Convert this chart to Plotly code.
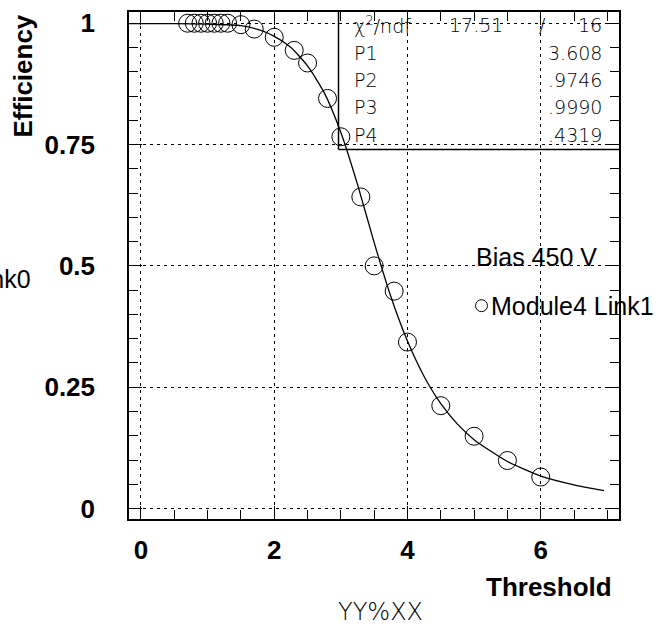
import plotly.graph_objects as go

# Measured efficiency versus threshold
threshold = [0.7, 0.8, 0.9, 1.0, 1.1, 1.2, 1.3, 1.5, 1.7, 2.0, 2.3, 2.5,
             2.8, 3.0, 3.3, 3.5, 3.8, 4.0, 4.5, 5.0, 5.5, 6.0]
efficiency = [1.0, 1.0, 1.0, 1.0, 1.0, 1.0, 1.0, 0.997, 0.988, 0.971, 0.944, 0.918,
              0.845, 0.766, 0.642, 0.500, 0.448, 0.343, 0.212, 0.149, 0.099, 0.065]

# Fitted curve, sampled along the threshold axis
fit_x = [-0.18, 0.5, 1.0, 1.5, 1.8, 2.0, 2.25, 2.5, 2.75, 3.0, 3.25, 3.5, 3.75,
         4.0, 4.25, 4.5, 4.75, 5.0, 5.5, 6.0, 6.5, 6.95]
fit_y = [0.999, 0.999, 0.998, 0.995, 0.985, 0.973, 0.950, 0.912, 0.857, 0.775, 0.668,
         0.548, 0.437, 0.345, 0.272, 0.216, 0.174, 0.142, 0.097, 0.067, 0.049, 0.037]

# Fit statistics
stat_labels = ["\u03c7<sup>2</sup>/ndf", "P1", "P2", "P3", "P4"]
stat_values = ["16", "3.608", ".9746", ".9990", ".4319"]
chi2_value = "17.51"

W, H = 668, 629
L, R, T, B = 129, 49, 8, 110
PW, PH = W - L - R, H - T - B


def px(x):
    return (x - L) / PW


def py(y):
    return (H - B - y) / PH


fig = go.Figure()
fig.add_trace(go.Scatter(x=fit_x, y=fit_y, mode="lines",
                         line=dict(color="black", width=1.3, shape="spline", smoothing=0.6),
                         hoverinfo="skip", showlegend=False))
fig.add_trace(go.Scatter(x=threshold, y=efficiency, mode="markers",
                         marker=dict(symbol="circle-open", size=18,
                                     line=dict(color="black", width=1), color="black"),
                         showlegend=False))

bold = dict(family="Liberation Sans, Arial, sans-serif", size=26, color="black", weight="bold")
thin = dict(family="DejaVu Sans ExtraLight, DejaVu Sans, sans-serif", size=19, color="black", weight=200)
plain = dict(family="Liberation Sans, Arial, sans-serif", size=25, color="black")

axis_common = dict(showline=True, linecolor="black", linewidth=1.5, mirror="allticks",
                   ticks="inside", tickcolor="black", tickwidth=1, ticklen=13,
                   showgrid=True, gridcolor="black", gridwidth=1, griddash="3px,4px",
                   zeroline=False, tickfont=bold)

fig.update_xaxes(range=[-0.18, 7.175], tick0=0, dtick=2, ticklabelstandoff=7,
                 minor=dict(tick0=0, dtick=0.5, ticks="inside", ticklen=9,
                            tickcolor="black", tickwidth=1, showgrid=False),
                 **axis_common)
fig.update_yaxes(range=[-0.0215, 1.0231], tick0=0, dtick=0.25, ticklabelstandoff=27,
                 minor=dict(tick0=0, dtick=0.05, ticks="inside", ticklen=9,
                            tickcolor="black", tickwidth=1, showgrid=False),
                 **axis_common)

ann = []
# axis titles
ann.append(dict(text="Threshold", x=px(614), y=py(588), xanchor="right", yanchor="middle",
                font=bold))
ann.append(dict(text="Efficiency", x=px(22.5), y=py(72.5), xanchor="center", yanchor="middle",
                textangle=-90, font=bold))
ann.append(dict(text="YY%XX", x=px(380), y=py(613), xanchor="center", yanchor="middle",
                font=dict(family=thin["family"], size=24, color="black", weight=200)))

# fit statistics box text
rows = [21, 49, 77, 104, 132]
for lab, val, yy in zip(stat_labels, stat_values, rows):
    ann.append(dict(text=lab, x=px(352), y=py(yy), xanchor="left", yanchor="middle", font=thin))
    ann.append(dict(text=val, x=px(604), y=py(yy), xanchor="right", yanchor="middle", font=thin))
ann.append(dict(text=chi2_value, x=px(476), y=py(rows[0]), xanchor="center", yanchor="middle", font=thin))
ann.append(dict(text="/", x=px(542), y=py(rows[0]), xanchor="center", yanchor="middle", font=thin))

# legend texts
ann.append(dict(text="Bias 450 V", x=px(474), y=py(255), xanchor="left", yanchor="middle", font=plain))
ann.append(dict(text="Module4 Link1", x=px(489), y=py(304), xanchor="left", yanchor="middle", font=plain))
ann.append(dict(text="Module4 Link0", x=px(33), y=py(277), xanchor="right", yanchor="middle", font=plain))

for a in ann:
    a.update(xref="paper", yref="paper", showarrow=False)

shapes = [
    # fit statistics box edges
    dict(type="line", xref="paper", yref="paper", x0=px(338.5), x1=px(338.5), y0=1, y1=py(146.5),
         line=dict(color="black", width=1.5)),
    dict(type="line", xref="paper", yref="paper", x0=px(338.5), x1=1, y0=py(146.5), y1=py(146.5),
         line=dict(color="black", width=1.5)),
    # legend marker
    dict(type="circle", xref="paper", yref="paper", x0=px(475.5), x1=px(487.5),
         y0=py(298), y1=py(310), line=dict(color="black", width=1)),
]

fig.update_layout(width=W, height=H, margin=dict(l=L, r=R, t=T, b=B),
                  paper_bgcolor="white", plot_bgcolor="white",
                  annotations=ann, shapes=shapes, showlegend=False)

fig.write_html("out.html")
